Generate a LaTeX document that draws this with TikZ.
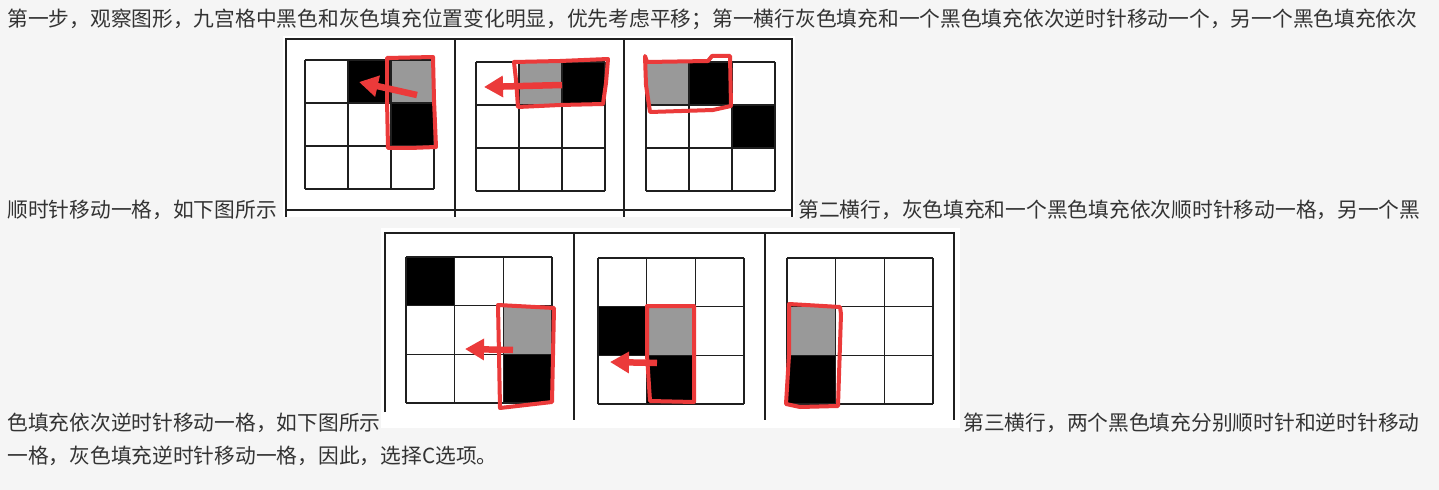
\documentclass[tikz,border=0pt]{standalone}
\usepackage{fontspec}
\newfontfamily\cjk{Noto Sans CJK SC}
\usetikzlibrary{arrows.meta}
\definecolor{pen}{RGB}{235,58,58}
\definecolor{ink}{RGB}{51,51,51}
\definecolor{pagebg}{RGB}{245,245,245}
\definecolor{shade}{RGB}{153,153,153}

\begin{document}
\begin{tikzpicture}
    [x=0.2mm,y=-0.2mm,
     frame/.style={draw=black!88,line width=0.3mm},
     gridline/.style={draw=black!88,line width=0.3mm},
     blk/.style={fill=black},
     gry/.style={fill=shade},
     loop/.style={draw=pen,line width=0.8mm,line join=round,line cap=round},
     move/.style={draw=pen,line width=1.3mm,-{Triangle[length=3.8mm,width=4.1mm]}},
     txt/.style={anchor=base west,inner sep=0pt,text=ink,font=\cjk\fontsize{11.8}{14}\selectfont}]

    \fill[pagebg] (0,0) rectangle (1439,490);
    \useasboundingbox (0,0) rectangle (1439,490);

    % text lines
    \foreach \name/\x/\y/\text in {
        L-1/7/26.5/第一步，观察图形，九宫格中黑色和灰色填充位置变化明显，优先考虑平移；第一横行灰色填充和一个黑色填充依次逆时针移动一个，另一个黑色填充依次,
        L-2/7/217/顺时针移动一格，如下图所示,
        L-3/798/217/第二横行，灰色填充和一个黑色填充依次顺时针移动一格，另一个黑,
        L-4/7/430/色填充依次逆时针移动一格，如下图所示,
        L-5/963/430/第三横行，两个黑色填充分别顺时针和逆时针移动,
        L-6/7/463/一格，灰色填充逆时针移动一格，因此，选择C选项。}
      \node[txt] (\name) at (\x,\y) {\text};

    % panels
    \fill[white] (283,36) rectangle (795,217);
    \fill[white] (381,228) rectangle (960,428);
    \draw[frame] (286,217) -- (286,39) -- (792,39) -- (792,217);
    \draw[frame] (286,210) -- (792,210);
    \foreach \x in {455,624}
      \draw[frame] (\x,39) -- (\x,217);
    \draw[frame] (385,412) -- (385,233) -- (954,233) -- (954,420);
    \foreach \x in {574,765}
      \draw[frame] (\x,233) -- (\x,420);

    % filled cells: grid origin / cell size / column / row / style
    \foreach \x/\y/\c/\col/\row/\sty in {305/60/43/2/1/blk, 305/60/43/3/1/gry, 305/60/43/3/2/blk,
        476/62/43/2/1/gry, 476/62/43/3/1/blk,
        646/62/43/1/1/gry, 646/62/43/2/1/blk, 646/62/43/3/2/blk,
        406/257/48.7/1/1/blk, 406/257/48.7/3/2/gry, 406/257/48.7/3/3/blk,
        598/258/48.7/1/2/blk, 598/258/48.7/2/2/gry, 598/258/48.7/2/3/blk,
        787/258/48.7/1/2/gry, 787/258/48.7/1/3/blk}
      \fill[\sty] ({\x+(\col-1)*\c},{\y+(\row-1)*\c}) rectangle ++(\c,\c);

    % grids
    \foreach \x/\y/\c in {305/60/43, 476/62/43, 646/62/43, 406/257/48.7, 598/258/48.7, 787/258/48.7}
      \foreach \i in {0,...,3}
        { \draw[gridline] ({\x+\i*\c},\y) -- ++(0,{3*\c});
          \draw[gridline] (\x,{\y+\i*\c}) -- ++({3*\c},0); }

    % red outlines
    \draw[loop] (387,58) -- (433,57) -- (434,100) -- (436,147) -- (410,148) -- (388,148) -- (387,100) -- cycle;
    \draw[loop] (514,62) -- (560,61) -- (608,59) -- (606,83) -- (603,104) -- (560,105) -- (518,107) -- (516,80) -- cycle;
    \draw[loop] (645,56) -- (647,62) -- (708,61) -- (712,56) -- (730,56) -- (731,106) -- (713,110) -- (650,112) -- (646,85) -- cycle;
    \draw[loop] (498,305) -- (554,308) -- (553,355) -- (552,402) -- (500,408) -- (499,355) -- cycle;
    \draw[loop] (647,306) -- (694,306) -- (694,402) -- (650,401) -- (647,355) -- cycle;
    \draw[loop] (789,304) -- (840,307) -- (841,314) -- (838,406) -- (800,407) -- (786,404) -- (789,355) -- cycle;

    % arrows
    \foreach \name/\fx/\fy/\tx/\ty in {A-1/417/95/359/82, A-2/562/85/484/87,
        A-4/513/350/465/349, A-5/657/363/610/362}
      { \coordinate (\name-s) at (\fx,\fy);
        \coordinate (\name-e) at (\tx,\ty);
        \draw[move] (\name-s) -- (\name-e); }
  \end{tikzpicture}
\end{document}
